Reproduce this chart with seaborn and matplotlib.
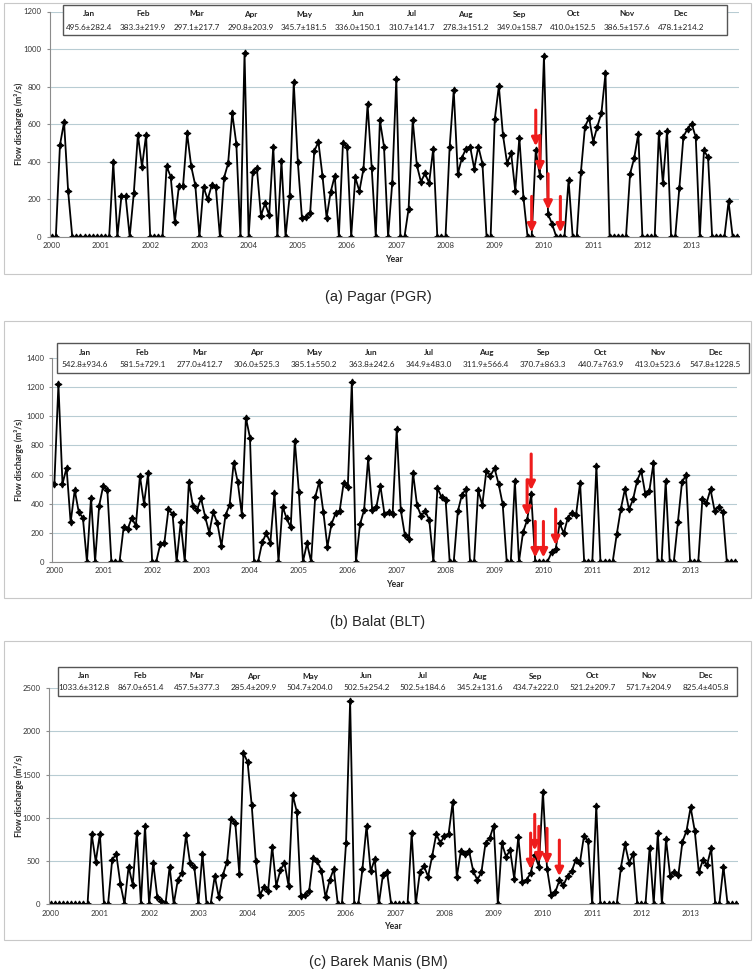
"""Monthly flow discharge at three stations, 2000-2013."""
import matplotlib
matplotlib.use('Agg')
import matplotlib.pyplot as plt
import numpy as np
import pandas as pd
import seaborn as sns
from matplotlib.patches import Rectangle

W, H = 756, 974

years = [str(y) for y in range(2000, 2014)]
months = ['Jan', 'Feb', 'Mar', 'Apr', 'May', 'Jun',
          'Jul', 'Aug', 'Sep', 'Oct', 'Nov', 'Dec']

pagar_stats = ['495.6±282.4', '383.3±219.9', '297.1±217.7', '290.8±203.9',
               '345.7±181.5', '336.0±150.1', '310.7±141.7', '278.3±151.2',
               '349.0±158.7', '410.0±152.5', '386.5±157.6', '478.1±214.2']
balat_stats = ['542.8±934.6', '581.5±729.1', '277.0±412.7', '306.0±525.3',
               '385.1±550.2', '363.8±242.6', '344.9±483.0', '311.9±566.4',
               '370.7±863.3', '440.7±763.9', '413.0±523.6', '547.8±1228.5']
barek_stats = ['1033.6±312.8', '867.0±651.4', '457.5±377.3', '285.4±209.9',
               '504.7±204.0', '502.5±254.2', '502.5±184.6', '345.2±131.6',
               '434.7±222.0', '521.2±209.7', '571.7±204.9', '825.4±405.8']

# monthly values, one row per year (2000 .. 2013)
pagar_flow = [
    0, 0, 488, 611, 241, 0, 0, 0, 0, 0, 0, 0,
    0, 0, 0, 396, 0, 218, 218, 0, 231, 543, 373, 543,
    0, 0, 0, 0, 375, 320, 78, 270, 268, 551, 375, 273,
    0, 265, 199, 273, 263, 0, 314, 391, 659, 495, 0, 980,
    0, 346, 366, 112, 178, 114, 480, 0, 401, 0, 218, 822,
    396, 99, 105, 128, 455, 506, 325, 101, 238, 325, 0, 501,
    480, 0, 316, 243, 362, 705, 368, 0, 620, 480, 0, 284,
    842, 0, 0, 149, 622, 382, 293, 337, 286, 469, 0, 0,
    0, 476, 780, 334, 421, 469, 480, 362, 480, 389, 0, 0,
    625, 803, 542, 393, 444, 245, 527, 208, 0, 0, 460, 325,
    963, 121, 67, 0, 0, 0, 302, 0, 0, 343, 586, 634,
    506, 586, 659, 870, 0, 0, 0, 0, 0, 336, 419, 549,
    0, 0, 0, 0, 551, 284, 565, 0, 0, 258, 533, 575,
    602, 531, 0, 460, 423, 0, 0, 0, 0, 188, 0, 0,
]
balat_flow = [
    532, 1221, 535, 647, 270, 493, 340, 303, 0, 441, 0, 386,
    523, 496, 0, 0, 0, 236, 225, 303, 246, 590, 399, 608,
    0, 0, 122, 131, 360, 328, 0, 270, 0, 546, 386, 356,
    436, 310, 200, 342, 264, 108, 321, 390, 682, 549, 324, 991,
    854, 0, 0, 133, 195, 131, 470, 0, 379, 298, 236, 833,
    482, 0, 126, 0, 443, 551, 344, 103, 259, 333, 349, 544,
    512, 1239, 0, 257, 356, 711, 356, 374, 523, 328, 342, 326,
    911, 356, 184, 156, 613, 388, 314, 349, 285, 0, 509, 443,
    427, 0, 0, 347, 459, 500, 0, 0, 493, 390, 624, 592,
    643, 537, 397, 0, 0, 555, 0, 202, 287, 464, 0, 0,
    0, 0, 64, 85, 264, 195, 303, 337, 321, 544, 0, 0,
    0, 659, 0, 0, 0, 0, 190, 363, 500, 360, 429, 558,
    627, 466, 489, 677, 0, 0, 555, 0, 0, 273, 546, 597,
    0, 0, 0, 429, 402, 498, 351, 374, 342, 0, 0, 0,
]
barek_flow = [
    0, 0, 0, 0, 0, 0, 0, 0, 0, 0, 808, 491,
    811, 0, 0, 514, 576, 232, 0, 433, 224, 827, 0, 904,
    0, 479, 77, 39, 0, 433, 0, 278, 363, 800, 471, 433,
    0, 580, 0, 0, 325, 77, 340, 491, 989, 943, 344, 1750,
    1646, 1151, 502, 100, 201, 151, 665, 209, 394, 475, 209, 1264,
    1070, 93, 104, 147, 533, 498, 386, 77, 274, 406, 0, 0,
    703, 2357, 0, 0, 406, 908, 379, 518, 0, 340, 371, 0,
    0, 0, 0, 0, 819, 0, 367, 440, 317, 556, 811, 707,
    792, 811, 1182, 313, 618, 576, 614, 383, 278, 367, 703, 761,
    908, 0, 703, 549, 622, 294, 777, 259, 282, 355, 572, 433,
    1302, 410, 108, 135, 274, 216, 325, 379, 510, 471, 788, 730,
    0, 1140, 0, 0, 0, 0, 0, 421, 692, 479, 583, 0,
    0, 0, 653, 0, 819, 0, 750, 328, 371, 332, 719, 850,
    1121, 850, 367, 510, 452, 645, 0, 0, 433, 0, 0, 0,
]

# month indices marked with red arrows
pagar_arrows = [117, 118, 119, 121, 124]
balat_arrows = [116, 117, 118, 120, 123]
barek_arrows = [117, 118, 119, 121, 124]

sns.set_style('white')
plt.rcParams['font.family'] = ['Lato', 'DejaVu Sans']


def fx(x):
    return x / W


def fy(y):
    return 1 - y / H


def draw_panel(fig, flow, ymax, ystep, stats, arrows, caption, lay):
    left, top, right, bottom = lay['axes']
    ax = fig.add_axes([fx(left), fy(bottom), (right - left) / W, (bottom - top) / H])
    df = pd.DataFrame({'month': np.arange(len(flow)), 'flow': flow})
    sns.lineplot(data=df, x='month', y='flow', ax=ax, color='black', linewidth=1.3,
                 marker=(4, 1, 0), markersize=5, markeredgewidth=0.8,
                 markeredgecolor='black', markerfacecolor='black')

    ax.set_xlim(-0.5, len(flow) - 0.5)
    ax.set_ylim(0, ymax)
    ax.set_yticks(np.arange(0, ymax + 1, ystep))
    ax.set_xticks(np.arange(0, len(flow), 12))
    ax.set_xticklabels(years)
    ax.grid(axis='y', color='#b8ccd3', linewidth=0.8)
    ax.set_axisbelow(True)
    for s in ('top', 'right'):
        ax.spines[s].set_visible(False)
    for s in ('left', 'bottom'):
        ax.spines[s].set_color('#8c8c8c')
        ax.spines[s].set_linewidth(0.8)
    ax.tick_params(axis='y', length=2.5, pad=3.5, labelsize=5.6,
                   color='#8c8c8c', labelcolor='#333333', left=True)
    ax.tick_params(axis='x', length=0, pad=4, labelsize=5.6, labelcolor='#333333')

    ax.set_xlabel('Year', fontsize=6.2, fontweight='bold', labelpad=4)
    ax.set_ylabel('Flow discharge (m³/s)', fontsize=6.2, fontweight='bold')
    ax.yaxis.set_label_coords((24 - left) / (right - left), 0.5)

    for i in arrows:
        ax.annotate('', xy=(i, flow[i]), xytext=(0, 29), textcoords='offset points',
                    arrowprops=dict(arrowstyle='-|>', color='#ee1c1c', lw=2.2,
                                    mutation_scale=12, shrinkA=0, shrinkB=3))

    # chart frame
    fl, ft, fr, fb = lay['frame']
    fig.add_artist(Rectangle((fx(fl), fy(fb)), (fr - fl) / W, (fb - ft) / H,
                             transform=fig.transFigure, fill=False,
                             edgecolor='#c8c8c8', linewidth=0.8))

    # monthly statistics box
    bl, bt, br, bb = lay['box']
    fig.add_artist(Rectangle((fx(bl), fy(bb)), (br - bl) / W, (bb - bt) / H,
                             transform=fig.transFigure, facecolor='white',
                             edgecolor='#555555', linewidth=1.0, zorder=5))
    x0, step = lay['cols']
    r1, r2 = lay['rows']
    for k, (m, s) in enumerate(zip(months, stats)):
        cx = fx(x0 + k * step)
        fig.text(cx, fy(r1), m, ha='center', va='center', fontsize=5.9,
                 fontweight='bold', color='#222222', zorder=6)
        fig.text(cx, fy(r2), s, ha='center', va='center', fontsize=5.9,
                 color='#222222', zorder=6)

    fig.text(0.5, fy(lay['caption_y']), caption, ha='center', va='center',
             fontsize=10.5, family=['Liberation Sans', 'DejaVu Sans'])
    return ax


fig = plt.figure(figsize=(W / 100, H / 100), dpi=100)

draw_panel(fig, pagar_flow, 1200, 200, pagar_stats, pagar_arrows, '(a) Pagar (PGR)',
           dict(axes=(49.7, 11.5, 738.8, 236.7), frame=(4, 3, 751, 274),
                box=(63, 5, 727, 35), cols=(89, 53.8), rows=(14, 27), caption_y=297))
draw_panel(fig, balat_flow, 1400, 200, balat_stats, balat_arrows, '(b) Balat (BLT)',
           dict(axes=(52.3, 358.3, 737, 561.7), frame=(4, 321, 751, 598),
                box=(57, 343, 749, 373), cols=(85, 57.3), rows=(352.7, 364.5),
                caption_y=622))
draw_panel(fig, barek_flow, 2500, 500, barek_stats, barek_arrows, '(c) Barek Manis (BM)',
           dict(axes=(48.6, 688.3, 737.8, 904), frame=(4, 641, 751, 940),
                box=(57.7, 667, 737, 696), cols=(84, 56.5), rows=(676, 687.5),
                caption_y=962))

fig.savefig('out.png', dpi=100)
plt.close(fig)
